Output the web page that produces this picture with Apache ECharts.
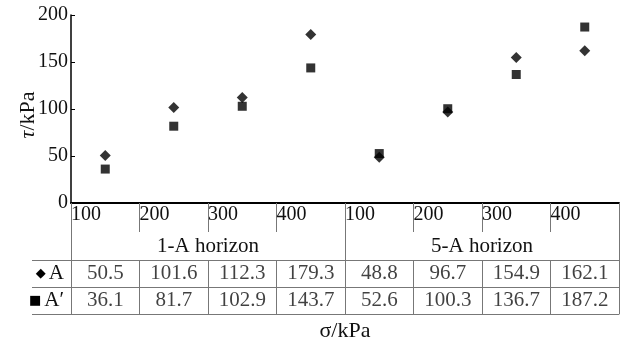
<!DOCTYPE html>
<html>
<head>
<meta charset="utf-8">
<script src="https://cdn.jsdelivr.net/npm/echarts@6/dist/echarts.min.js"></script>
<style>
  html, body { margin: 0; padding: 0; background: #fff; }
  #main { width: 627px; height: 346px; }
</style>
</head>
<body>
<div id="main"></div>
<script>
var categories = ['100', '200', '300', '400', '100', '200', '300', '400'];
var horizons = ['1-A horizon', '5-A horizon'];
var rowNames = ['A', 'A′'];
var valuesA = [50.5, 101.6, 112.3, 179.3, 48.8, 96.7, 154.9, 162.1];
var valuesA2 = [36.1, 81.7, 102.9, 143.7, 52.6, 100.3, 136.7, 187.2];

var font = 'Liberation Serif';
var gridLine = '#777';

// cells of the table under the chart
var cells = [];
valuesA.forEach(function (v, i) { cells.push([i, 0, v]); });
valuesA2.forEach(function (v, i) { cells.push([i, 1, v]); });

var chart = echarts.init(document.getElementById('main'));
var option = {
    animation: false,
    grid: [
        { left: 71, right: 8, top: 15, height: 188, outerBoundsMode: 'none' },
        { left: 71, right: 8, top: 260, height: 54, outerBoundsMode: 'none' }
    ],
    xAxis: [
        {   // data axis
            type: 'category', gridIndex: 0, data: categories, position: 'bottom',
            axisLine: { lineStyle: { color: '#000', width: 2 } },
            axisTick: { show: false }, axisLabel: { show: false }
        },
        {   // pressure labels, left aligned at the cell borders
            type: 'value', gridIndex: 0, min: 0, max: 8, interval: 1,
            position: 'bottom', offset: 0,
            axisLine: { show: false },
            splitLine: { show: false },
            axisTick: { show: true, length: 29, lineStyle: { color: gridLine, width: 1 } },
            axisLabel: {
                margin: 2, align: 'left', fontFamily: font, fontSize: 20, color: '#111',
                formatter: function (v) { return v < 8 ? categories[v] : ''; }
            }
        },
        {   // horizon row
            type: 'category', gridIndex: 0, data: horizons,
            position: 'bottom', offset: 0,
            axisLine: { show: false },
            axisTick: { show: true, interval: 0, length: 57, lineStyle: { color: gridLine, width: 1 } },
            axisLabel: { interval: 0, margin: 33, fontFamily: font, fontSize: 21, color: '#111' }
        },
        {   // table body verticals
            type: 'category', gridIndex: 1, data: categories, position: 'top',
            axisLine: { show: true, lineStyle: { color: gridLine, width: 1 } },
            axisTick: { show: true, interval: 0, inside: true, length: 54, lineStyle: { color: gridLine, width: 1 } },
            axisLabel: { show: false }
        },
        {   // bottom border + axis title
            type: 'category', gridIndex: 1, data: categories, position: 'bottom',
            axisLine: { show: true, lineStyle: { color: gridLine, width: 1 } },
            axisTick: { show: false }, axisLabel: { show: false },
            name: 'σ/kPa', nameLocation: 'middle', nameGap: 6, nameMoveOverlap: false,
            nameTextStyle: { fontFamily: font, fontSize: 22, color: '#111' }
        }
    ],
    yAxis: [
        {
            type: 'value', gridIndex: 0, min: 0, max: 200, interval: 50,
            axisLine: { show: true, lineStyle: { color: '#000', width: 1.5 } },
            axisTick: { show: true, inside: true, length: 4, lineStyle: { color: '#000' } },
            splitLine: { show: false },
            axisLabel: { margin: 3, fontFamily: font, fontSize: 20, color: '#111' },
            name: '{i|τ}/kPa', nameLocation: 'middle', nameRotate: 90, nameGap: 32,
            nameMoveOverlap: false,
            nameTextStyle: {
                fontFamily: font, fontSize: 22, color: '#111', padding: [0, 12, 0, 0],
                rich: { i: { fontFamily: font, fontSize: 22, fontStyle: 'italic', color: '#111' } }
            }
        },
        {   // table row names
            type: 'category', gridIndex: 1, data: rowNames, inverse: true,
            axisLine: { show: true, lineStyle: { color: gridLine, width: 1 } },
            axisTick: { show: true, interval: 0, length: 39, lineStyle: { color: gridLine, width: 1 } },
            splitLine: { show: true, interval: 0, lineStyle: { color: gridLine, width: 1 } },
            axisLabel: {
                interval: 0, margin: 7, fontFamily: font, fontSize: 21, color: '#111',
                formatter: function (v, i) { return (i === 0 ? '{s|◆}' : '{s|■}') + v; },
                rich: { s: { fontSize: 13, color: '#000', fontFamily: 'DejaVu Sans', padding: [0, 3, 0, 0] } }
            }
        },
        {   // left border of the row name column
            type: 'category', gridIndex: 1, data: rowNames, offset: 39,
            axisLine: { show: true, lineStyle: { color: gridLine, width: 1 } },
            axisTick: { show: false }, axisLabel: { show: false }
        }
    ],
    series: [
        {
            name: 'A', type: 'scatter', xAxisIndex: 0, yAxisIndex: 0,
            symbol: 'diamond', symbolSize: [11, 11],
            itemStyle: { color: '#000' },
            data: valuesA
        },
        {
            name: 'A′', type: 'scatter', xAxisIndex: 0, yAxisIndex: 0,
            symbol: 'rect', symbolSize: 9,
            itemStyle: { color: '#000' },
            data: valuesA2
        },
        {
            name: 'table', type: 'scatter', xAxisIndex: 3, yAxisIndex: 1,
            symbolSize: 1, itemStyle: { color: 'rgba(0,0,0,0)' },
            label: {
                show: true, position: 'inside', fontFamily: font, fontSize: 21, color: '#111',
                formatter: function (p) { return p.value[2].toFixed(1); }
            },
            data: cells
        }
    ]
};
chart.setOption(option);
</script>
</body>
</html>
